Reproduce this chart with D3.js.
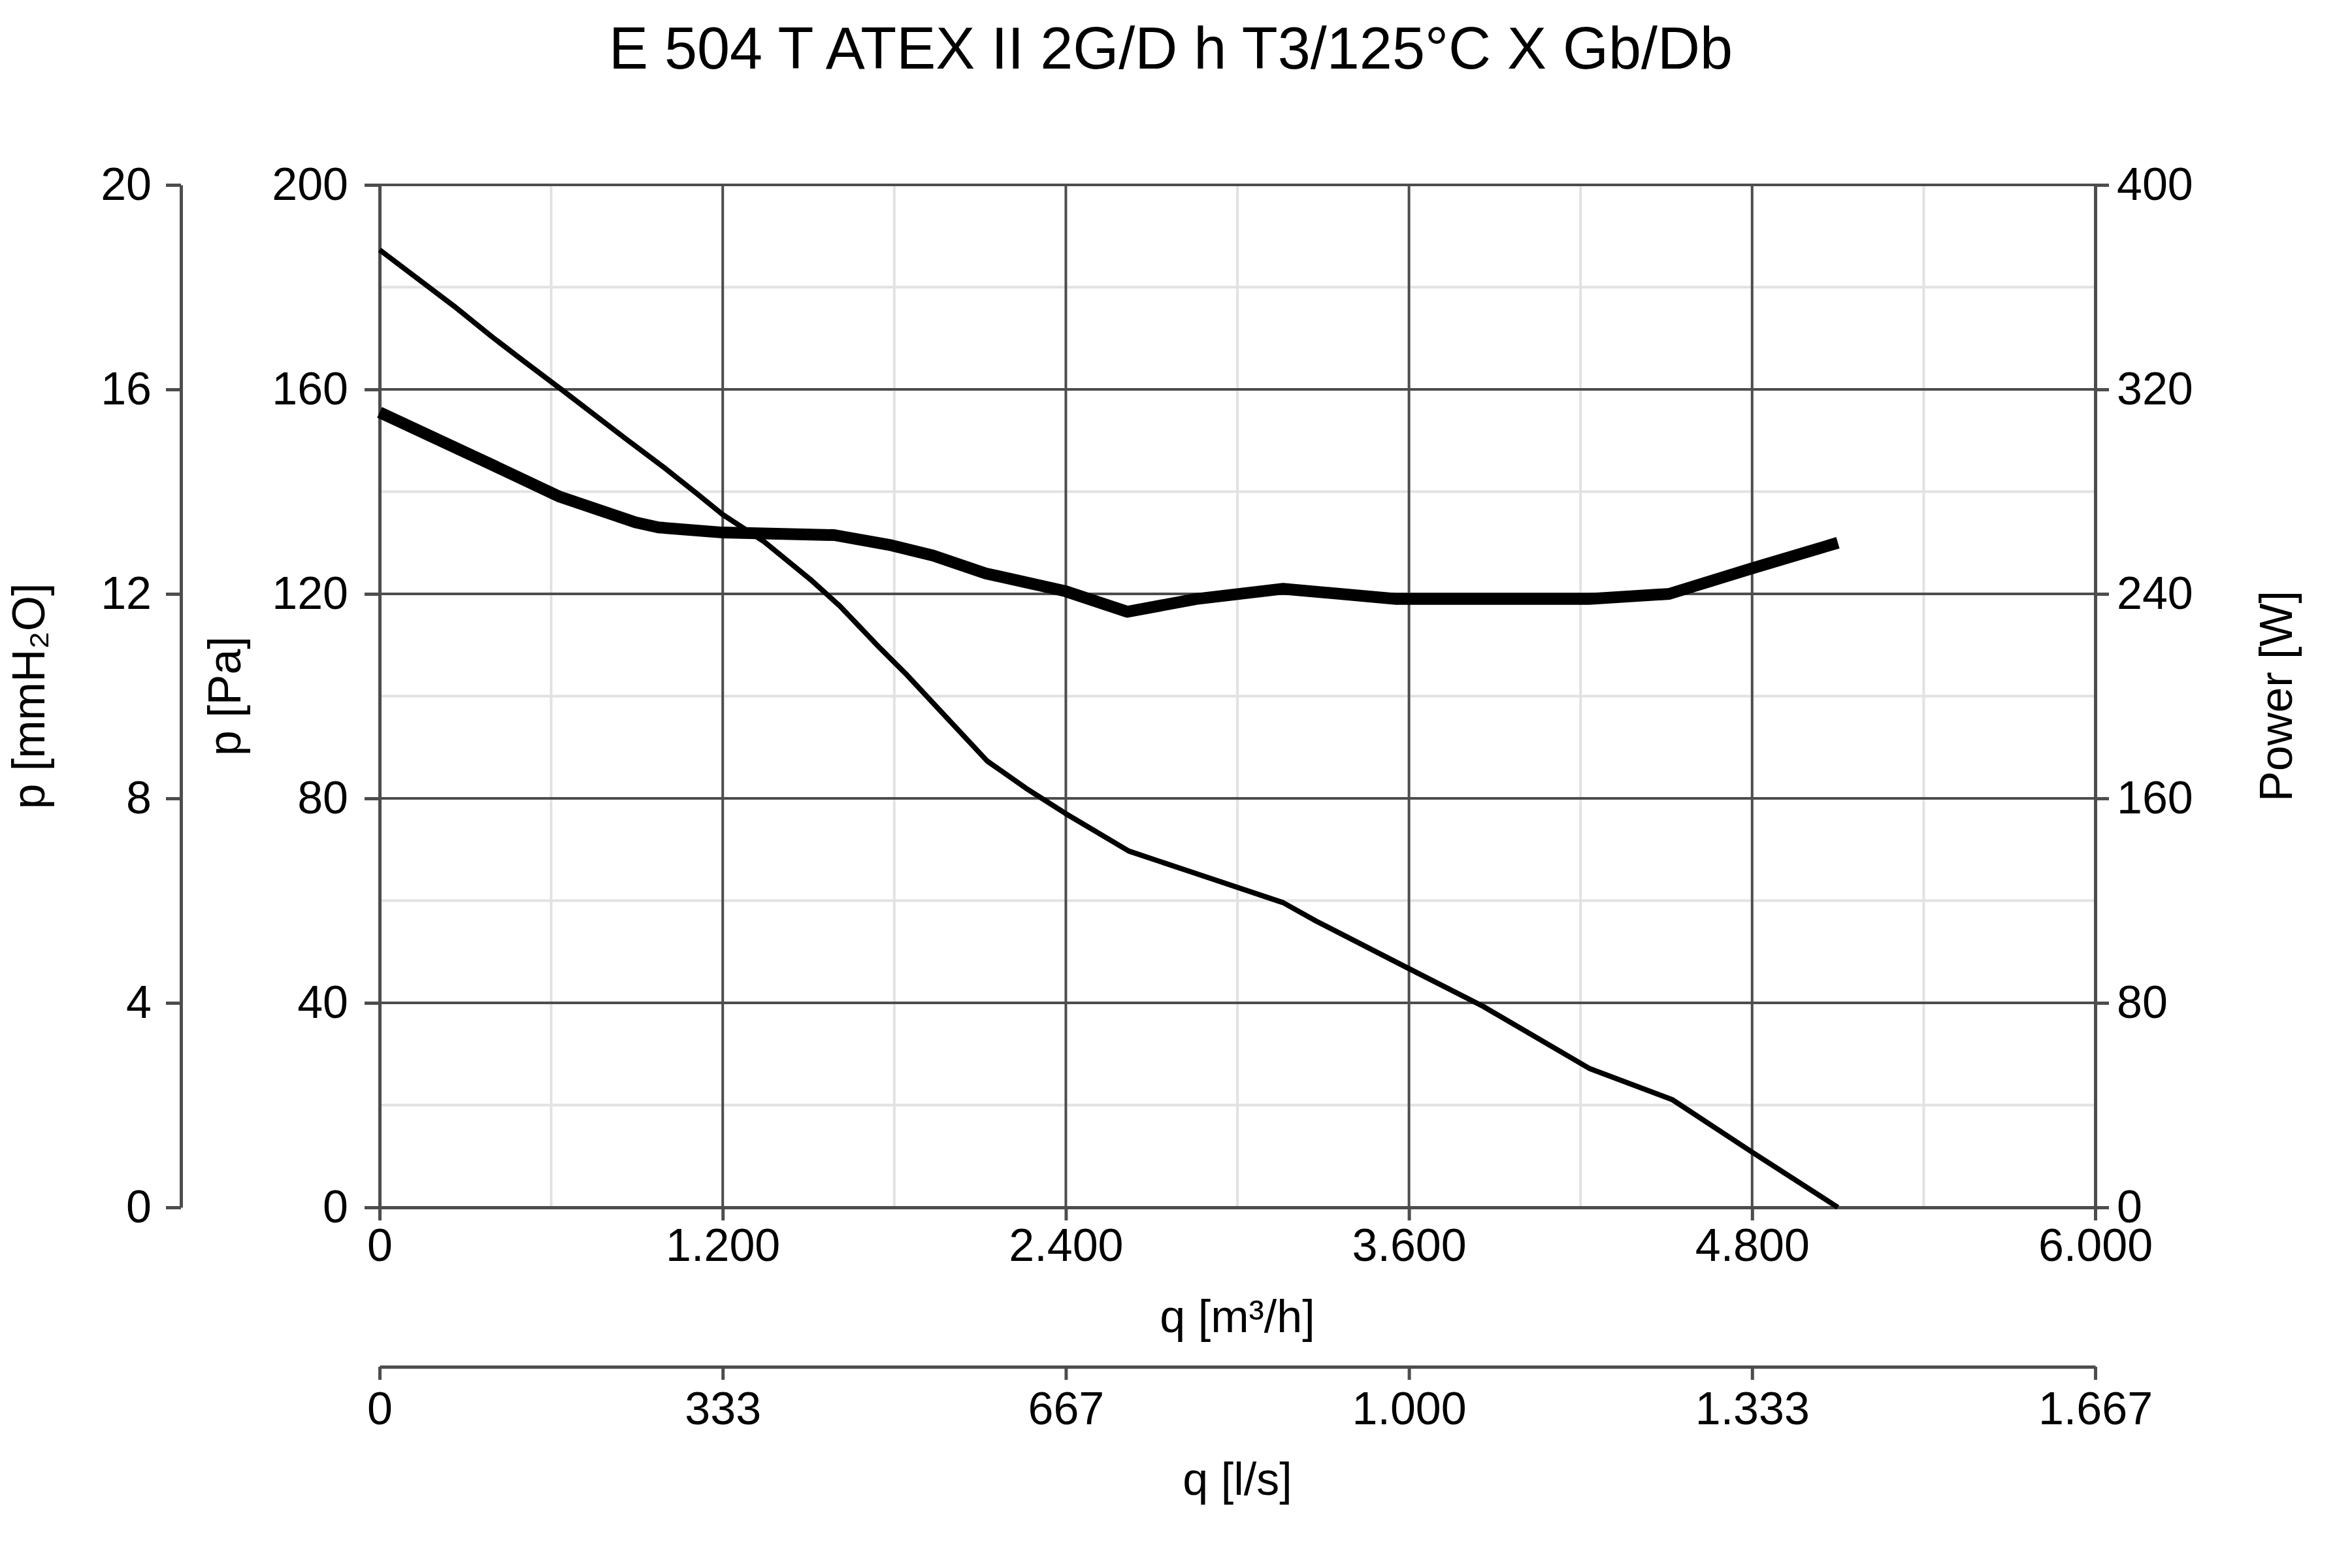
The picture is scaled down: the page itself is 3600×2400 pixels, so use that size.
<!DOCTYPE html>
<html>
<head>
<meta charset="utf-8">
<script src="https://cdn.jsdelivr.net/npm/d3@7"></script>
<style>
  body { margin: 0; background: #fff; }
</style>
</head>
<body>
<div id="main"></div>
<script>
// chart data
const title = "E 504 T ATEX II 2G/D h T3/125°C X Gb/Db";

const pressureFlow = [0, 260, 395, 505, 640, 855, 1000, 1110, 1200, 1345, 1505, 1610, 1750, 1845, 1975, 2125, 2260, 2400, 2620, 2855, 3160, 3275, 3600, 3860, 4230, 4520, 4800, 5100];
const pressurePa = [187.3, 176.3, 170.2, 165.5, 159.8, 150.6, 144.5, 139.6, 135.5, 130.2, 122.9, 117.6, 109.4, 104.1, 96.3, 87.3, 82.0, 77.0, 69.7, 65.3, 59.6, 56.0, 46.7, 39.3, 27.2, 21.1, 10.8, 0];

const powerFlow = [0, 365, 630, 895, 975, 1200, 1590, 1790, 1935, 2120, 2400, 2615, 2855, 3160, 3555, 4230, 4510, 4800, 5100];
const powerW = [311, 292, 278, 268, 266, 264, 263, 259, 255, 248, 241, 233, 238, 242, 238, 238, 240, 250, 260];

const qTicks = [0, 1200, 2400, 3600, 4800, 6000];
const qTickLabels = ["0", "1.200", "2.400", "3.600", "4.800", "6.000"];
const lsTicks = [0, 1000 / 3, 2000 / 3, 1000, 4000 / 3, 5000 / 3];
const lsTickLabels = ["0", "333", "667", "1.000", "1.333", "1.667"];
const paTicks = [0, 40, 80, 120, 160, 200];
const mmTicks = [0, 4, 8, 12, 16, 20];
const wTicks = [0, 80, 160, 240, 320, 400];
const qMinor = [600, 1800, 3000, 4200, 5400];
const paMinor = [20, 60, 100, 140, 180];

const width = 3600, height = 2400;
const plot = { left: 581, right: 3207, top: 283, bottom: 1848 };
const font = "'Liberation Sans', Arial, sans-serif";
const axisColor = "#4d4d4d";

const x = d3.scaleLinear().domain([0, 6000]).range([plot.left, plot.right]);
const xLs = d3.scaleLinear().domain([0, 6000 / 3.6]).range([plot.left, plot.right]);
const y = d3.scaleLinear().domain([0, 200]).range([plot.bottom, plot.top]);
const yMm = d3.scaleLinear().domain([0, 20]).range([plot.bottom, plot.top]);
const yW = d3.scaleLinear().domain([0, 400]).range([plot.bottom, plot.top]);

const svg = d3.select("#main").append("svg")
    .attr("width", width)
    .attr("height", height)
    .attr("viewBox", [0, 0, width, height])
    .style("font-family", font);

svg.append("rect").attr("width", width).attr("height", height).attr("fill", "#fff");

// minor grid
const grid = svg.append("g");
grid.selectAll(".vminor").data(qMinor).join("line")
    .attr("class", "vminor")
    .attr("x1", d => x(d)).attr("x2", d => x(d))
    .attr("y1", plot.top).attr("y2", plot.bottom)
    .attr("stroke", "#e2e2e2").attr("stroke-width", 4);
grid.selectAll(".hminor").data(paMinor).join("line")
    .attr("class", "hminor")
    .attr("x1", plot.left).attr("x2", plot.right)
    .attr("y1", d => y(d)).attr("y2", d => y(d))
    .attr("stroke", "#e2e2e2").attr("stroke-width", 4);

// major grid
grid.selectAll(".vmajor").data(qTicks).join("line")
    .attr("class", "vmajor")
    .attr("x1", d => x(d)).attr("x2", d => x(d))
    .attr("y1", plot.top).attr("y2", plot.bottom)
    .attr("stroke", axisColor).attr("stroke-width", 4);
grid.selectAll(".hmajor").data(paTicks).join("line")
    .attr("class", "hmajor")
    .attr("x1", plot.left).attr("x2", plot.right)
    .attr("y1", d => y(d)).attr("y2", d => y(d))
    .attr("stroke", axisColor).attr("stroke-width", 4);

function styleAxis(g) {
    g.attr("color", axisColor)
        .attr("font-family", font)
        .attr("font-size", 70);
    g.selectAll("line").attr("stroke-width", 5);
    g.selectAll("path").attr("stroke-width", 5);
    g.selectAll("text").attr("fill", "#000");
}

// Pa axis (left, on the plot)
svg.append("g")
    .attr("transform", `translate(${plot.left},0)`)
    .call(d3.axisLeft(y).tickValues(paTicks).tickSize(23).tickSizeOuter(0).tickPadding(25))
    .call(styleAxis);

// mmH2O axis (far left)
svg.append("g")
    .attr("transform", `translate(277,0)`)
    .call(d3.axisLeft(yMm).tickValues(mmTicks).tickSize(23).tickSizeOuter(0).tickPadding(22))
    .call(styleAxis);

// Power axis (right)
svg.append("g")
    .attr("transform", `translate(${plot.right},0)`)
    .call(d3.axisRight(yW).tickValues(wTicks).tickSize(21).tickSizeOuter(0).tickPadding(12))
    .call(styleAxis);

// q m3/h axis
svg.append("g")
    .attr("transform", `translate(0,${plot.bottom})`)
    .call(d3.axisBottom(x).tickValues(qTicks).tickFormat((d, i) => qTickLabels[i])
        .tickSize(20).tickSizeOuter(0).tickPadding(12))
    .call(styleAxis);

// q l/s axis
svg.append("g")
    .attr("transform", `translate(0,2092)`)
    .call(d3.axisBottom(xLs).tickValues(lsTicks).tickFormat((d, i) => lsTickLabels[i])
        .tickSize(20).tickSizeOuter(0).tickPadding(18))
    .call(styleAxis);

// curves
const pressureLine = d3.line()
    .x((d, i) => x(pressureFlow[i]))
    .y(d => y(d));
const powerLine = d3.line()
    .x((d, i) => x(powerFlow[i]))
    .y(d => yW(d));

svg.append("path")
    .attr("d", pressureLine(pressurePa))
    .attr("fill", "none")
    .attr("stroke", "#000")
    .attr("stroke-width", 8)
    .attr("stroke-linejoin", "round");

svg.append("path")
    .attr("d", powerLine(powerW))
    .attr("fill", "none")
    .attr("stroke", "#000")
    .attr("stroke-width", 18)
    .attr("stroke-linejoin", "round");

// titles
svg.append("text")
    .attr("x", 1792).attr("y", 105)
    .attr("text-anchor", "middle")
    .attr("font-size", 90)
    .text(title);

svg.append("text")
    .attr("x", (plot.left + plot.right) / 2).attr("y", 2039)
    .attr("text-anchor", "middle")
    .attr("font-size", 70)
    .text("q [m³/h]");

svg.append("text")
    .attr("x", (plot.left + plot.right) / 2).attr("y", 2288)
    .attr("text-anchor", "middle")
    .attr("font-size", 70)
    .text("q [l/s]");

const midY = (plot.top + plot.bottom) / 2;
svg.append("text")
    .attr("transform", `translate(68,${midY}) rotate(-90)`)
    .attr("text-anchor", "middle")
    .attr("font-size", 70)
    .text("p [mmH₂O]");

svg.append("text")
    .attr("transform", `translate(368,${midY}) rotate(-90)`)
    .attr("text-anchor", "middle")
    .attr("font-size", 70)
    .text("p [Pa]");

svg.append("text")
    .attr("transform", `translate(3508,${midY}) rotate(-90)`)
    .attr("text-anchor", "middle")
    .attr("font-size", 70)
    .text("Power [W]");
</script>
</body>
</html>
